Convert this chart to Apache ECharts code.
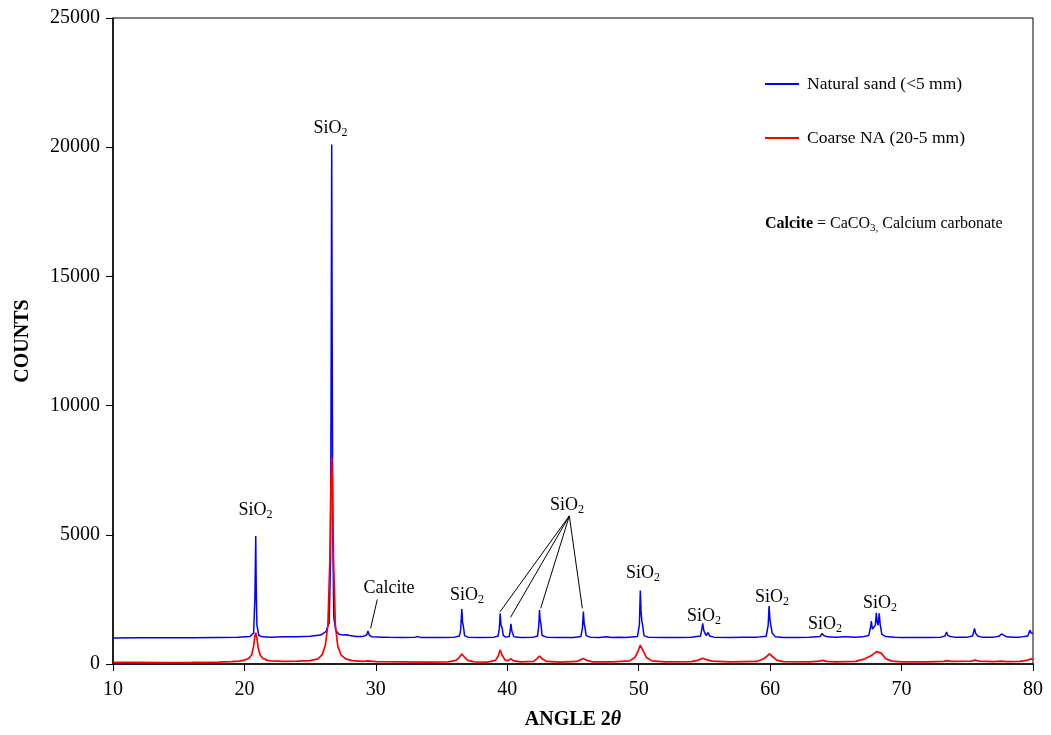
<!DOCTYPE html>
<html>
<head>
<meta charset="utf-8">
<script src="https://cdn.jsdelivr.net/npm/echarts@6/dist/echarts.min.js"></script>
<style>html,body{margin:0;padding:0;background:#fff}#c{width:1051px;height:735px}</style>
</head>
<body>
<div id="c"></div>
<script>
// ---- Data (angle 2θ, counts) ----
var naturalSand = [
 [10,1010],[12,1020],[14,1015],[16,1020],[18,1030],[19.5,1040],[20.4,1060],[20.7,1200],[20.8,2600],[20.86,4950],[20.9,2800],[20.95,1500],[21.1,1100],[21.4,1050],[22,1040],[23,1050],[23.1,1100],[23.2,1050],[24,1050],[25,1070],[25.8,1120],[26.2,1250],[26.45,1600],[26.55,4000],[26.6,12000],[26.64,20100],[26.68,12000],[26.72,5000],[26.8,1800],[26.95,1300],[27.2,1150],[27.5,1120],[27.8,1130],[28,1100],[28.5,1060],[29,1060],[29.3,1120],[29.4,1280],[29.5,1120],[29.7,1050],[30.5,1040],[31,1035],[32,1030],[33,1040],[33.2,1060],[33.4,1030],[34,1030],[35,1030],[36,1040],[36.35,1080],[36.45,1300],[36.54,2130],[36.6,1600],[36.65,1500],[36.75,1100],[37,1040],[38,1030],[39,1040],[39.3,1080],[39.4,1400],[39.46,1960],[39.52,1500],[39.6,1420],[39.7,1100],[39.9,1040],[40.15,1060],[40.22,1300],[40.28,1550],[40.34,1300],[40.4,1200],[40.5,1050],[41,1030],[42,1040],[42.3,1080],[42.4,1500],[42.45,2090],[42.5,1700],[42.56,1550],[42.65,1100],[43,1040],[44,1030],[45,1030],[45.6,1060],[45.72,1400],[45.79,2030],[45.85,1550],[45.9,1450],[46,1100],[46.3,1040],[47,1030],[47.5,1050],[48,1030],[48.5,1040],[49,1030],[49.9,1060],[50.05,1500],[50.12,2840],[50.18,2000],[50.24,1650],[50.3,1500],[50.4,1100],[50.7,1040],[52,1030],[53,1030],[54,1035],[54.7,1080],[54.82,1400],[54.87,1570],[54.95,1300],[55.05,1180],[55.15,1100],[55.28,1220],[55.4,1080],[55.7,1040],[57,1030],[58,1035],[59,1040],[59.7,1070],[59.85,1500],[59.92,2245],[59.99,1700],[60.06,1650],[60.15,1200],[60.4,1050],[61,1030],[62,1030],[63,1035],[63.8,1060],[63.95,1180],[64.0,1225],[64.08,1100],[64.2,1120],[64.35,1050],[65,1040],[65.6,1050],[65.72,1080],[65.85,1050],[66.5,1040],[67,1050],[67.5,1100],[67.65,1450],[67.7,1660],[67.78,1350],[67.9,1400],[68.0,1500],[68.08,1980],[68.15,1600],[68.22,1500],[68.3,1960],[68.38,1500],[68.5,1150],[68.8,1060],[69.5,1040],[70,1030],[71,1030],[72,1030],[73,1040],[73.3,1080],[73.42,1240],[73.5,1120],[73.6,1150],[73.7,1060],[74,1040],[75,1040],[75.4,1080],[75.55,1380],[75.62,1200],[75.7,1220],[75.8,1080],[76.1,1040],[77,1040],[77.4,1070],[77.6,1160],[77.7,1100],[77.8,1110],[78,1050],[78.5,1040],[79,1040],[79.6,1080],[79.78,1310],[79.85,1200],[79.92,1250],[80,1180]
];
var coarseNA = [
 [10,60],[12,60],[14,55],[16,60],[18,70],[19,90],[19.6,110],[20.0,150],[20.3,210],[20.55,350],[20.7,700],[20.8,1100],[20.86,1210],[20.95,1000],[21.05,600],[21.2,350],[21.4,220],[21.7,150],[22,120],[23,100],[24,110],[25,130],[25.6,200],[25.9,350],[26.15,700],[26.35,1500],[26.5,4000],[26.58,7000],[26.64,8000],[26.7,7000],[26.78,4000],[26.92,1500],[27.1,700],[27.35,350],[27.7,200],[28.2,130],[29,100],[29.4,120],[30,90],[32,80],[34,70],[35.5,80],[36.1,140],[36.35,260],[36.54,390],[36.75,260],[37,140],[37.5,80],[38.5,75],[39.1,140],[39.3,300],[39.46,540],[39.6,350],[39.85,140],[40.1,140],[40.28,200],[40.45,130],[41,80],[42.0,100],[42.25,200],[42.45,310],[42.65,200],[43,100],[44,75],[45.3,100],[45.6,170],[45.79,210],[46.0,150],[46.5,80],[48,80],[49.3,120],[49.7,250],[49.95,500],[50.12,730],[50.3,550],[50.6,250],[51,120],[52,80],[54,90],[54.5,140],[54.87,220],[55.2,160],[55.6,110],[57,80],[59,100],[59.5,200],[59.75,300],[59.95,390],[60.15,300],[60.5,150],[61,90],[63,80],[63.7,110],[64.0,140],[64.3,100],[65,80],[66.5,100],[67.2,200],[67.6,300],[67.85,380],[68.1,480],[68.25,520],[68.45,420],[68.8,200],[69.3,110],[70,80],[72,80],[73.2,100],[73.45,130],[73.8,100],[75.3,110],[75.6,150],[75.9,110],[77,90],[77.6,110],[78,90],[79,100],[79.6,150],[79.85,200],[80,180]
];
var seriesNames = ['Natural sand (<5 mm)', 'Coarse NA (20-5 mm)'];
var xTicks = {min: 10, max: 80, interval: 10};
var yTicks = {min: 0, max: 25000, interval: 5000};
// annotation anchor points in data coords: [angle, counts, label]
var peakLabels = [
 [20.85, 5960, 'SiO2'], [26.55, 20740, 'SiO2'], [31.0, 2940, 'Calcite'],
 [36.93, 2670, 'SiO2'], [44.54, 6150, 'SiO2'], [50.32, 3520, 'SiO2'],
 [54.97, 1860, 'SiO2'], [60.14, 2590, 'SiO2'], [64.17, 1550, 'SiO2'], [68.36, 2360, 'SiO2']
];
var leaderLines = [
 [[30.11, 2500], [29.6, 1380]],
 [[44.72, 5730], [39.45, 2025]],
 [[44.72, 5730], [40.25, 1807]],
 [[44.72, 5730], [42.54, 2155]],
 [[44.72, 5730], [45.71, 2155]]
];

var FONT = '"Liberation Serif", "Times New Roman", serif';
var chart = echarts.init(document.getElementById('c'));
chart.setOption({
  animation: false,
  backgroundColor: '#fff',
  grid: {left: 113, right: 18, top: 18, bottom: 71, show: true, borderColor: '#000', borderWidth: 1, outerBoundsMode: 'none'},
  legend: {
    left: 765, top: 74, orient: 'vertical', itemGap: 34, padding: 0,
    itemWidth: 34, itemHeight: 2, icon: 'rect',
    data: seriesNames,
    textStyle: {fontFamily: FONT, fontSize: 17.5, color: '#000', lineHeight: 20, padding: [0, 0, 0, 3]}
  },
  xAxis: {
    type: 'value', min: xTicks.min, max: xTicks.max, interval: xTicks.interval,
    name: '{b|ANGLE 2}{i|θ}', nameLocation: 'middle', nameGap: 46,
    nameTextStyle: {rich: {b: {fontFamily: FONT, fontSize: 20, fontWeight: 'bold', color: '#000'}, i: {fontFamily: FONT, fontSize: 20, fontWeight: 'bold', fontStyle: 'italic', color: '#000'}}},
    axisLine: {lineStyle: {color: '#000', width: 1.5}},
    axisTick: {show: true, inside: false, length: 7, lineStyle: {color: '#000'}},
    axisLabel: {fontFamily: FONT, fontSize: 20, color: '#000', margin: 16},
    splitLine: {show: false}
  },
  yAxis: {
    type: 'value', min: yTicks.min, max: yTicks.max, interval: yTicks.interval,
    name: 'COUNTS', nameLocation: 'middle', nameGap: 80, nameRotate: 90,
    nameTextStyle: {fontFamily: FONT, fontSize: 20, fontWeight: 'bold', color: '#000'},
    axisLine: {show: true, lineStyle: {color: '#000', width: 1.5}},
    axisTick: {show: true, inside: false, length: 7, lineStyle: {color: '#000'}},
    axisLabel: {fontFamily: FONT, fontSize: 20, color: '#000', margin: 13, formatter: function (v) { return String(v); }},
    splitLine: {show: false}
  },
  graphic: [{
    type: 'text', left: 765, top: 216,
    style: {
      text: '{b|Calcite}{n| = CaCO}{s|3,}{n| Calcium carbonate}',
      rich: {
        b: {fontFamily: FONT, fontSize: 16, fontWeight: 'bold', fill: '#000', lineHeight: 20, verticalAlign: 'middle'},
        n: {fontFamily: FONT, fontSize: 16, fill: '#000', lineHeight: 20, verticalAlign: 'middle'},
        s: {fontFamily: FONT, fontSize: 11, fill: '#000', lineHeight: 11, verticalAlign: 'bottom'}
      }
    }
  }],
  series: [
    {name: seriesNames[0], type: 'line', data: naturalSand, showSymbol: false, symbol: 'none',
     lineStyle: {color: '#0000ff', width: 1.5}, itemStyle: {color: '#0000ff'}, z: 2},
    {name: seriesNames[1], type: 'line', data: coarseNA, showSymbol: false, symbol: 'none',
     lineStyle: {color: '#ff0000', width: 1.7}, itemStyle: {color: '#ff0000'}, z: 3},
    {name: 'annotations', type: 'scatter', symbolSize: 0, silent: true, z: 5,
     itemStyle: {opacity: 1, color: '#000'},
     data: peakLabels.map(function (p) { return {value: [p[0], p[1]], name: p[2]}; }),
     label: {
       show: true, position: 'inside', color: '#000', opacity: 1,
       formatter: function (p) { return p.name === 'SiO2' ? '{a|SiO}{s|2}' : '{a|' + p.name + '}'; },
       rich: {
         a: {fontFamily: FONT, fontSize: 18, color: '#000', lineHeight: 22, verticalAlign: 'middle'},
         s: {fontFamily: FONT, fontSize: 12, color: '#000', lineHeight: 12, verticalAlign: 'bottom'}
       }
     },
     markLine: {
       silent: true, symbol: 'none', animation: false,
       lineStyle: {color: '#000', width: 1, type: 'solid', opacity: 1},
       label: {show: false},
       data: leaderLines.map(function (l) { return [{coord: l[0]}, {coord: l[1]}]; })
     }
    }
  ]
});
</script>
</body>
</html>
